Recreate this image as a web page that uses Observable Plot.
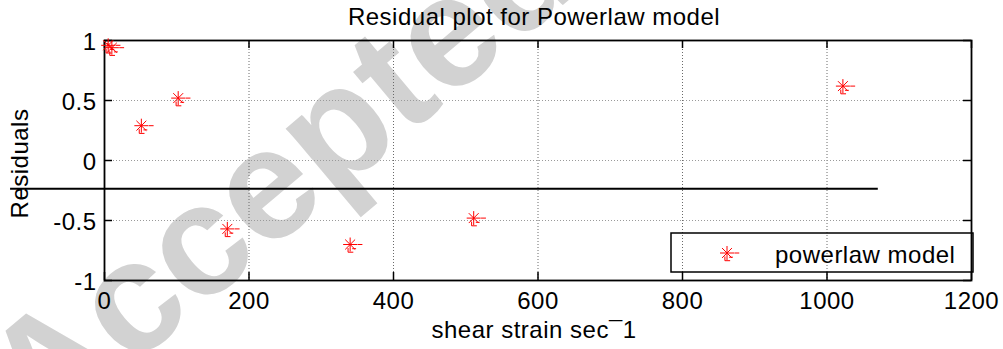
<!DOCTYPE html>
<html>
<head>
<meta charset="utf-8">
<script src="https://cdn.jsdelivr.net/npm/d3@7"></script>
<script src="https://cdn.jsdelivr.net/npm/@observablehq/plot@0.6"></script>
<style>
  html, body { margin: 0; padding: 0; background: white; }
  #wrap { position: relative; width: 1003px; height: 349px; overflow: hidden; font-family: "Liberation Sans", Arial, Helvetica, sans-serif; }
  #wrap > * { position: absolute; left: 0; top: 0; }
</style>
</head>
<body>
<div id="wrap"></div>
<script>
// ---- data ----
const titleText = "Residual plot for Powerlaw model";
const xLabelText = "shear strain sec\u00AF1";
const yLabelText = "Residuals";
const legendText = "powerlaw model";
const watermarkText = "Accepted";

const shearRate = [5.1, 10.2, 51, 102, 170, 340, 511, 1022];
const residuals = [0.96, 0.94, 0.29, 0.52, -0.57, -0.70, -0.48, 0.62];

const refLineY = -0.235;
const refLineX = [-130, 1071];

const xTicks = [0, 200, 400, 600, 800, 1000, 1200];
const yTicks = [-1, -0.5, 0, 0.5, 1];
const xDomain = [0, 1200];
const yDomain = [-1, 1];

// ---- build ----
const points = shearRate.map((x, i) => ({x, y: residuals[i]}));
const refLine = [{x1: refLineX[0], x2: refLineX[1], y: refLineY}];

// MATLAB-like '*' marker with its small trailing strokes
const matlabStar = {
  draw(ctx, size) {
    const r = Math.sqrt(size / Math.PI);
    const d = r * Math.SQRT1_2;
    ctx.moveTo(-r, 0); ctx.lineTo(r, 0);
    ctx.moveTo(0, -r); ctx.lineTo(0, r);
    ctx.moveTo(-d, -d); ctx.lineTo(d, d);
    ctx.moveTo(-d, d); ctx.lineTo(d, -d);
    ctx.moveTo(r * 1.05, 0); ctx.lineTo(r * 1.75, 0);
    ctx.moveTo(-r * 0.3, r * 0.5); ctx.lineTo(-r * 0.3, r * 1.1); ctx.lineTo(r * 0.45, r * 1.1);
    ctx.moveTo(r * 0.3, r * 0.6); ctx.lineTo(r * 0.85, r * 0.6);
  }
};

const W = 1003, H = 349;
const FONT = "\"Liberation Sans\", Arial, Helvetica, sans-serif";
const FS = 24;
const LS = "0.5px";

const wrap = document.getElementById("wrap");

// watermark behind
const wm = d3.create("svg").attr("width", W).attr("height", H);
wm.append("text")
  .attr("transform", "translate(42,442) rotate(-40)")
  .attr("font-family", FONT)
  .attr("font-weight", "bold")
  .attr("font-size", 158)
  .attr("fill", "#d2d2d2")
  .text(watermarkText);
wrap.appendChild(wm.node());

const chart = Plot.plot({
  width: W,
  height: H,
  marginLeft: 104,
  marginRight: 32,
  marginTop: 40,
  marginBottom: 69,
  style: {background: "transparent", fontFamily: FONT, fontSize: FS + "px", letterSpacing: LS, overflow: "visible"},
  x: {domain: xDomain, axis: null},
  y: {domain: yDomain, axis: null},
  marks: [
    // grid
    Plot.ruleX(xTicks.slice(1, -1), {x: d => d, stroke: "#6a6a6a", strokeWidth: 1, strokeDasharray: "1,2"}),
    Plot.ruleY(yTicks.slice(1, -1), {y: d => d, stroke: "#9a9a9a", strokeWidth: 1, strokeDasharray: "1,2"}),
    // inward ticks
    Plot.ruleX(xTicks, {x: d => d, y1: yDomain[0], y2: yDomain[0], insetBottom: 8, stroke: "black", strokeWidth: 1.5}),
    Plot.ruleX(xTicks, {x: d => d, y1: yDomain[1], y2: yDomain[1], insetTop: 8, stroke: "black", strokeWidth: 1.5}),
    Plot.ruleY(yTicks, {y: d => d, x1: xDomain[0], x2: xDomain[0], insetLeft: 8, stroke: "black", strokeWidth: 1.5}),
    Plot.ruleY(yTicks, {y: d => d, x1: xDomain[1], x2: xDomain[1], insetRight: 8, stroke: "black", strokeWidth: 1.5}),
    // frame
    Plot.frame({stroke: "black", strokeWidth: 1.8}),
    // tick labels
    Plot.text(xTicks, {x: d => d, frameAnchor: "bottom", dy: 28, lineAnchor: "bottom", text: d => String(d), fontSize: FS, fill: "black"}),
    Plot.text(yTicks, {y: d => d, frameAnchor: "left", dx: -8, dy: 2, textAnchor: "end", lineAnchor: "middle", text: d => String(d), fontSize: FS, fill: "black"}),
    // axis labels & title
    Plot.text([xLabelText], {frameAnchor: "bottom", dy: 57, lineAnchor: "bottom", textAnchor: "middle", text: d => d, fontSize: FS, fill: "black", dx: -4}),
    Plot.text([yLabelText], {frameAnchor: "left", dx: -84, dy: 3, rotate: -90, textAnchor: "middle", lineAnchor: "middle", text: d => d, fontSize: FS, fill: "black"}),
    Plot.text([titleText], {frameAnchor: "top", dy: -16, lineAnchor: "bottom", textAnchor: "middle", text: d => d, fontSize: FS, fill: "black", dx: -4}),
    // reference line
    Plot.ruleY(refLine, {y: "y", x1: "x1", x2: "x2", stroke: "black", strokeWidth: 2}),
    // residual points
    Plot.dot(points, {x: "x", y: "y", symbol: matlabStar, r: 7, fill: "none", stroke: "red", strokeWidth: 1})
  ]
});
wrap.appendChild(chart);

// legend overlay
const lg = d3.create("svg").attr("width", W).attr("height", H);
lg.append("rect")
  .attr("x", 671).attr("y", 233).attr("width", 302).attr("height", 39)
  .attr("fill", "none").attr("stroke", "black").attr("stroke-width", 1.5);
const p = d3.path();
matlabStar.draw(p, 49 * Math.PI);
lg.append("path").attr("transform", "translate(727,253)").attr("d", p.toString())
  .attr("fill", "none").attr("stroke", "red").attr("stroke-width", 1);
lg.append("text").attr("x", 775).attr("y", 263)
  .attr("font-family", FONT).attr("font-size", FS).attr("letter-spacing", LS).attr("fill", "black")
  .text(legendText);
wrap.appendChild(lg.node());
</script>
</body>
</html>
